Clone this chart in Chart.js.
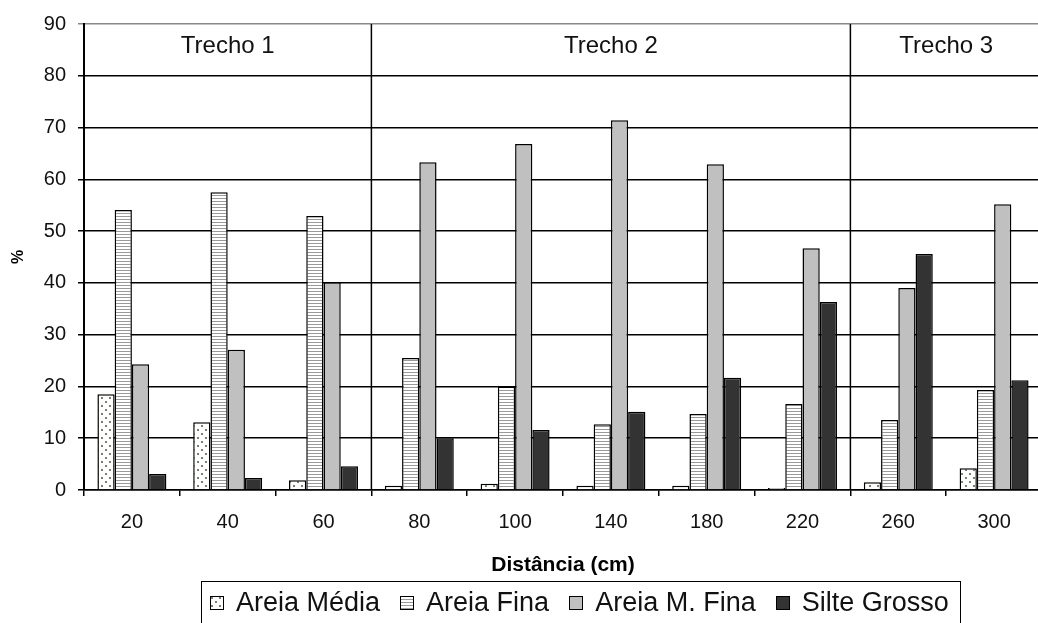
<!DOCTYPE html>
<html>
<head>
<meta charset="utf-8">
<script src="https://cdn.jsdelivr.net/npm/chart.js@4.4.1/dist/chart.umd.min.js"></script>
<style>
  body { margin: 0; background: #fff; overflow: hidden; }
  #wrap { position: relative; width: 1050px; height: 623px; }
  #legend {
    position: absolute; left: 201px; top: 581px; width: 760px; height: 60px;
    border: 1.5px solid #000; box-sizing: border-box;
    display: flex; align-items: flex-start; padding: 5px 0 0 8px;
    font-family: 'Liberation Sans', Arial, sans-serif; font-size: 27px; color: #111;
  }
  .item { display: flex; align-items: center; margin-right: 20px; white-space: nowrap; }
  .item canvas { margin-right: 12px; }
</style>
</head>
<body>
<div id="wrap">
  <canvas id="myChart" width="1050" height="623"></canvas>
  <div id="legend"></div>
</div>
<script>
// distances (cm)
var categories = ['20', '40', '60', '80', '100', '140', '180', '220', '260', '300'];

// % of each fraction
var areiaMedia  = [18.5, 13.1, 1.9, 0.8, 1.2, 0.8, 0.8, 0.4, 1.5, 4.2];
var areiaFina   = [54.1, 57.5, 52.9, 25.5, 20.0, 12.7, 14.7, 16.6, 13.5, 19.3];
var areiaMFina  = [24.3, 27.1, 40.1, 63.3, 66.8, 71.4, 62.9, 46.7, 39.0, 55.2];
var silteGrosso = [3.1, 2.3, 4.6, 10.0, 11.6, 15.1, 21.7, 36.3, 45.6, 21.2];

var seriesNames = ['Areia Média', 'Areia Fina', 'Areia M. Fina', 'Silte Grosso'];

// stretches along the channel: label and first/last category index
var trechoLabels = ['Trecho 1', 'Trecho 2', 'Trecho 3'];
var trechoFirst  = [0, 3, 8];
var trechoLast   = [2, 7, 9];

var FONT = "'Liberation Sans', Arial, sans-serif";

// fill patterns for the bars
function makeTile(w, h, draw) {
    var c = document.createElement('canvas');
    c.width = w; c.height = h;
    var t = c.getContext('2d');
    t.fillStyle = '#fff';
    t.fillRect(0, 0, w, h);
    draw(t);
    return c;
}
var dotsTile = makeTile(8, 8, function (t) {
    t.fillStyle = '#6f856f';
    t.fillRect(1, 1, 2, 2);
    t.fillRect(5, 5, 2, 2);
});
var stripesTile = makeTile(4, 3, function (t) {
    t.fillStyle = '#9a9a9a';
    t.fillRect(0, 0, 4, 1);
});

const ctx = document.getElementById('myChart').getContext('2d');
var fills = [
    ctx.createPattern(dotsTile, 'repeat'),
    ctx.createPattern(stripesTile, 'repeat'),
    '#c0c0c0',
    '#333333'
];

// vertical separators and the Trecho labels
var trechoPlugin = {
    id: 'trechos',
    afterDatasetsDraw: function (chart) {
        var c = chart.ctx, x = chart.scales.x, area = chart.chartArea;
        var half = (x.getPixelForValue(1) - x.getPixelForValue(0)) / 2;
        c.save();
        c.strokeStyle = '#000';
        c.lineWidth = 1.5;
        for (var i = 0; i < trechoLabels.length; i++) {
            var left = x.getPixelForValue(trechoFirst[i]) - half;
            var right = x.getPixelForValue(trechoLast[i]) + half;
            if (i > 0) {
                c.beginPath();
                c.moveTo(left, area.top);
                c.lineTo(left, area.bottom);
                c.stroke();
            }
            c.fillStyle = '#111';
            c.font = '24px ' + FONT;
            c.textAlign = 'center';
            c.textBaseline = 'middle';
            c.fillText(trechoLabels[i], (left + right) / 2, 46);
        }
        c.restore();
    }
};

var seriesData = [areiaMedia, areiaFina, areiaMFina, silteGrosso];

var currentChart = new Chart(ctx, {
    type: 'bar',
    data: {
        labels: categories,
        datasets: seriesData.map(function (vals, i) {
            return {
                label: seriesNames[i],
                data: vals,
                backgroundColor: fills[i],
                borderColor: '#000',
                borderWidth: 1.5,
                categoryPercentage: 0.72,
                barPercentage: 1.0
            };
        })
    },
    options: {
        responsive: false,
        animation: false,
        layout: { padding: { top: 24, right: 8, bottom: 45, left: 0 } },
        plugins: {
            legend: { display: false },
            tooltip: { enabled: false }
        },
        scales: {
            x: {
                afterFit: function (s) { s.height = 88; },
                grid: { drawOnChartArea: false, color: '#000', lineWidth: 1.5, tickLength: 6 },
                border: { color: '#000', width: 1.5 },
                ticks: { color: '#111', padding: 14, font: { family: FONT, size: 20 } },
                title: {
                    display: true, text: 'Distância (cm)', color: '#000',
                    padding: { top: 0, bottom: 0 },
                    font: { family: FONT, size: 21, weight: 'bold' }
                }
            },
            y: {
                min: 0,
                max: 90,
                afterFit: function (s) { s.width = 84; },
                grid: {
                    color: function (c) { return c.tick && c.tick.value === 90 ? '#888' : '#000'; },
                    lineWidth: 1.5,
                    tickLength: 6
                },
                border: { color: '#000', width: 2 },
                ticks: { stepSize: 10, color: '#111', padding: 12, font: { family: FONT, size: 20 } },
                title: {
                    display: true, text: '%', color: '#000',
                    padding: { top: 9, bottom: 0 },
                    font: { family: FONT, size: 16, weight: 'bold' }
                }
            }
        }
    },
    plugins: [trechoPlugin]
});

// legend box under the axis title
var legend = document.getElementById('legend');
seriesNames.forEach(function (name, i) {
    var item = document.createElement('div');
    item.className = 'item';
    var icon = document.createElement('canvas');
    icon.width = 14; icon.height = 14;
    var ic = icon.getContext('2d');
    ic.fillStyle = i === 0 ? ic.createPattern(dotsTile, 'repeat')
                 : i === 1 ? ic.createPattern(stripesTile, 'repeat') : fills[i];
    ic.fillRect(0, 0, 14, 14);
    ic.strokeStyle = '#000';
    ic.lineWidth = 1;
    ic.strokeRect(0.5, 0.5, 13, 13);
    var span = document.createElement('span');
    span.textContent = name;
    item.appendChild(icon);
    item.appendChild(span);
    legend.appendChild(item);
});
</script>
</body>
</html>
